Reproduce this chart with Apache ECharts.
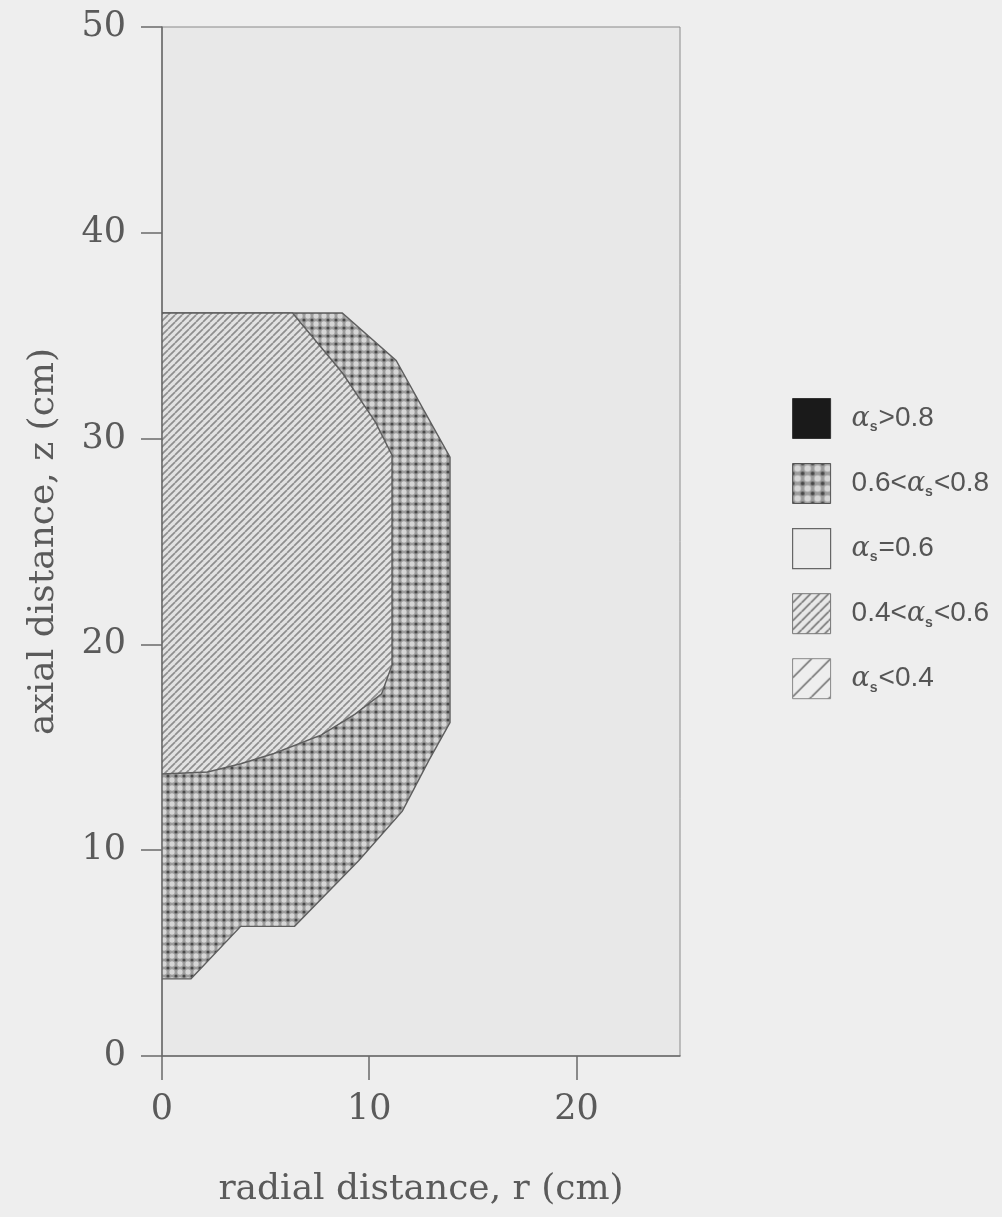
<!DOCTYPE html>
<html>
<head>
<meta charset="utf-8">
<script src="https://cdn.jsdelivr.net/npm/echarts@6/dist/echarts.min.js"></script>
<style>
html,body{margin:0;padding:0;background:#eeeeee;}
#chart{width:1002px;height:1217px;}
</style>
</head>
<body>
<div id="chart"></div>
<script>
// ---- data ----
const xTicks = [0, 10, 20];
const yTicks = [0, 10, 20, 30, 40, 50];
// 0.6 < alpha_s < 0.8 region outline (r, z)
const crossR = [0, 1.4, 3.8, 6.4, 9.5, 11.6, 12.9, 13.9, 13.9, 11.3, 8.7, 0];
const crossZ = [3.75, 3.75, 6.3, 6.3, 9.5, 11.9, 14.4, 16.2, 29.1, 33.8, 36.1, 36.1];
// 0.4 < alpha_s < 0.6 region outline (r, z)
const hatchR = [0, 2.2, 3.8, 5.4, 7.7, 9.3, 10.6, 11.1, 11.1, 10.3, 8.7, 6.3, 0];
const hatchZ = [13.7, 13.8, 14.2, 14.7, 15.6, 16.6, 17.6, 19.0, 29.2, 30.8, 33.2, 36.1, 36.1];
const legendNames = ['a>0.8', '0.6<a<0.8', 'a=0.6', '0.4<a<0.6', 'a<0.4'];
const legendRich = [
  '{a|α}{s|s}{t|>0.8}',
  '{t|0.6<}{a|α}{s|s}{t|<0.8}',
  '{a|α}{s|s}{t|=0.6}',
  '{t|0.4<}{a|α}{s|s}{t|<0.6}',
  '{a|α}{s|s}{t|<0.4}'
];

// ---- patterns ----
function hatchPattern(s, bg, line, lw) {
  const c = document.createElement('canvas');
  c.width = s; c.height = s;
  const g = c.getContext('2d');
  g.fillStyle = bg; g.fillRect(0, 0, s, s);
  g.strokeStyle = line; g.lineWidth = lw;
  [-s, 0, s].forEach(k => { g.beginPath(); g.moveTo(k, s); g.lineTo(k + s, 0); g.stroke(); });
  return c;
}
function dotPattern(s) {
  const c = document.createElement('canvas');
  c.width = s; c.height = s;
  const g = c.getContext('2d');
  g.fillStyle = '#9c9c9c'; g.fillRect(0, 0, s, s);
  g.fillStyle = '#d6d6d6';
  g.beginPath(); g.ellipse(s / 2, s / 2, s * 0.33, s * 0.33, 0, 0, Math.PI * 2); g.fill();
  g.fillStyle = '#484848';
  [[0,0],[s,0],[0,s],[s,s]].forEach(p => { g.beginPath(); g.arc(p[0], p[1], s * 0.2, 0, Math.PI * 2); g.fill(); });
  return c;
}
const hatchFill = { image: hatchPattern(7, '#e2e2e2', '#8e8e8e', 1.7), repeat: 'repeat' };
const crossFill = { image: dotPattern(8), repeat: 'repeat' };
const legHatch = { image: hatchPattern(9, '#e8e8e8', '#666', 1.5), repeat: 'repeat' };
const legSparse = { image: hatchPattern(19, '#eeeeee', '#666', 1.5), repeat: 'repeat' };
const legCross = { image: dotPattern(10), repeat: 'repeat' };

function polySeries(name, R, Z, fill, z) {
  return {
    name: name, type: 'custom', coordinateSystem: 'cartesian2d', clip: true, z: z,
    data: [[0, 0]],
    itemStyle: { color: fill },
    renderItem: function (params, api) {
      const pts = R.map((r, i) => api.coord([r, Z[i]]));
      return { type: 'polygon', shape: { points: pts },
        style: { fill: fill, stroke: '#5e5e5e', lineWidth: 1.4 } };
    }
  };
}

const chart = echarts.init(document.getElementById('chart'), null, { renderer: 'canvas' });
const serif = 'DejaVu Serif';
chart.setOption({
  backgroundColor: '#eeeeee',
  animation: false,
  grid: { left: 162, right: 322, top: 27, bottom: 161, show: true,
    backgroundColor: '#e8e8e8', borderColor: '#8a8a8a', borderWidth: 1 },
  xAxis: {
    type: 'value', min: 0, max: 25, interval: 10,
    name: 'radial distance, r (cm)', nameLocation: 'middle', nameGap: 116,
    nameTextStyle: { fontFamily: serif, fontSize: 36, color: '#5a5a5a' },
    axisLine: { show: true, lineStyle: { color: '#6a6a6a', width: 1.5 } },
    axisTick: { show: true, inside: false, length: 24, customValues: xTicks, lineStyle: { color: '#6a6a6a', width: 1.5 } },
    axisLabel: { margin: 36, fontFamily: serif, fontSize: 35, color: '#5a5a5a', customValues: xTicks,
      formatter: v => xTicks.indexOf(v) >= 0 ? String(v) : '' },
    splitLine: { show: false }
  },
  yAxis: {
    type: 'value', min: 0, max: 50, interval: 10,
    name: 'axial distance, z (cm)', nameLocation: 'middle', nameGap: 100,
    nameTextStyle: { fontFamily: serif, fontSize: 36, color: '#5a5a5a' },
    axisLine: { show: true, lineStyle: { color: '#6a6a6a', width: 1.5 } },
    axisTick: { show: true, inside: false, length: 21, lineStyle: { color: '#6a6a6a', width: 1.5 } },
    axisLabel: { margin: 36, fontFamily: serif, fontSize: 35, color: '#5a5a5a',
      formatter: v => yTicks.indexOf(v) >= 0 ? String(v) : '' },
    splitLine: { show: false }
  },
  legend: {
    orient: 'vertical', left: 787, top: 393, itemWidth: 38, itemHeight: 40, itemGap: 24,
    icon: 'rect', selectedMode: false,
    data: [
      { name: legendNames[0], itemStyle: { color: '#1a1a1a', borderColor: '#333', borderWidth: 1 } },
      { name: legendNames[1], itemStyle: { color: legCross, borderColor: '#555', borderWidth: 1 } },
      { name: legendNames[2], itemStyle: { color: '#ececec', borderColor: '#666', borderWidth: 1.2 } },
      { name: legendNames[3], itemStyle: { color: legHatch, borderColor: '#777', borderWidth: 1 } },
      { name: legendNames[4], itemStyle: { color: legSparse, borderColor: '#888', borderWidth: 1 } }
    ],
    formatter: function (name) { return legendRich[legendNames.indexOf(name)]; },
    textStyle: {
      padding: [0, 0, 0, 16],
      rich: {
        t: { fontFamily: 'Liberation Sans', fontSize: 28, color: '#555', lineHeight: 32 },
        a: { fontFamily: 'DejaVu Serif', fontStyle: 'italic', fontSize: 27, color: '#555', lineHeight: 32 },
        s: { fontFamily: 'Liberation Sans', fontWeight: 'bold', fontSize: 14, color: '#555', lineHeight: 32, verticalAlign: 'bottom', padding: [15, 1, 0, 0] }
      }
    }
  },
  series: [
    polySeries(legendNames[0], [], [], '#1a1a1a', 1),
    polySeries(legendNames[1], crossR, crossZ, crossFill, 2),
    polySeries(legendNames[2], [], [], '#ececec', 1),
    polySeries(legendNames[3], hatchR, hatchZ, hatchFill, 3),
    polySeries(legendNames[4], [], [], legSparse, 1)
  ]
});
</script>
</body>
</html>
